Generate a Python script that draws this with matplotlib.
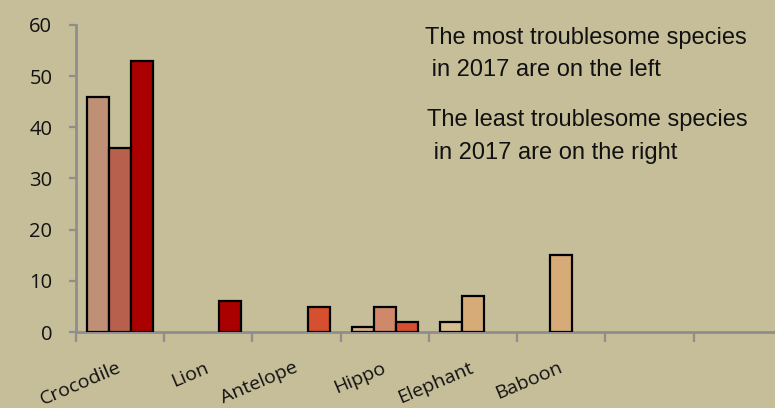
import numpy as np
import matplotlib
matplotlib.use("Agg")
import matplotlib.pyplot as plt

# incidents per species, three bars per category
species = ["Crocodile", "Lion", "Antelope", "Hippo", "Elephant", "Baboon", "", ""]
series_a = [46, 0, 0, 1, 2, 0, 0, 0]
series_b = [36, 0, 0, 5, 7, 15, 0, 0]
series_c = [53, 6, 5, 2, 0, 0, 0, 0]
yticks = [0, 10, 20, 30, 40, 50, 60]

# each bar gets its own fill
colors_a = ["#C09076", "#C09076", "#C09076", "#D4AF88", "#D7BD8F", "#D6AB78", "#D6AB78", "#D6AB78"]
colors_b = ["#B8604E", "#B8604E", "#B8604E", "#D0886A", "#D6AB78", "#D6AB78", "#D6AB78", "#D6AB78"]
colors_c = ["#AA0000", "#AA0000", "#D64F2E", "#D64F2E", "#D64F2E", "#D64F2E", "#D64F2E", "#D64F2E"]

bg = "#C6BE99"
axis_grey = "#8E8E8E"

fig = plt.figure(figsize=(7.75, 4.08), dpi=100, facecolor=bg)
ax = fig.add_axes([0.098, 0.186, 0.911, 0.753])
ax.set_facecolor(bg)

x = np.arange(len(species)) + 0.5
w = 0.25
for offset, vals, cols in [(-w, series_a, colors_a), (0, series_b, colors_b), (w, series_c, colors_c)]:
    for xi, v, c in zip(x, vals, cols):
        if v > 0:
            ax.bar(xi + offset, v, width=w, color=c, edgecolor="black", linewidth=1.6, zorder=3)

ax.set_xlim(0, len(species))
ax.set_ylim(0, 60)
ax.set_yticks(yticks)
ax.set_yticklabels([str(t) for t in yticks], fontsize=14.5, fontfamily="Open Sans", color="#111111")

# category boundaries carry the tick marks, labels sit at the centres
ax.set_xticks(np.arange(len(species) + 1))
ax.set_xticklabels([])
ax.set_xticks(x, minor=True)
ax.set_xticklabels(species, minor=True, rotation=23, ha="right", va="center",
                   rotation_mode="anchor", fontsize=14, fontfamily="Open Sans", color="#111111")
ax.tick_params(axis="x", which="minor", length=0, pad=25)
ax.tick_params(axis="x", which="major", length=7, width=1.6, color=axis_grey, direction="out")
ax.tick_params(axis="y", length=5, width=1.6, color=axis_grey, direction="out", pad=12)

for s in ["top", "right"]:
    ax.spines[s].set_visible(False)
for s in ["left", "bottom"]:
    ax.spines[s].set_color(axis_grey)
    ax.spines[s].set_linewidth(2)

fig.text(0.548, 0.935, "The most troublesome species\n in 2017 are on the left",
         fontsize=17, fontfamily="Liberation Sans", va="top", ha="left", linespacing=1.6, color="#111111")
fig.text(0.551, 0.732, "The least troublesome species\n in 2017 are on the right",
         fontsize=17, fontfamily="Liberation Sans", va="top", ha="left", linespacing=1.6, color="#111111")

fig.savefig("out.png", dpi=100, facecolor=bg)
